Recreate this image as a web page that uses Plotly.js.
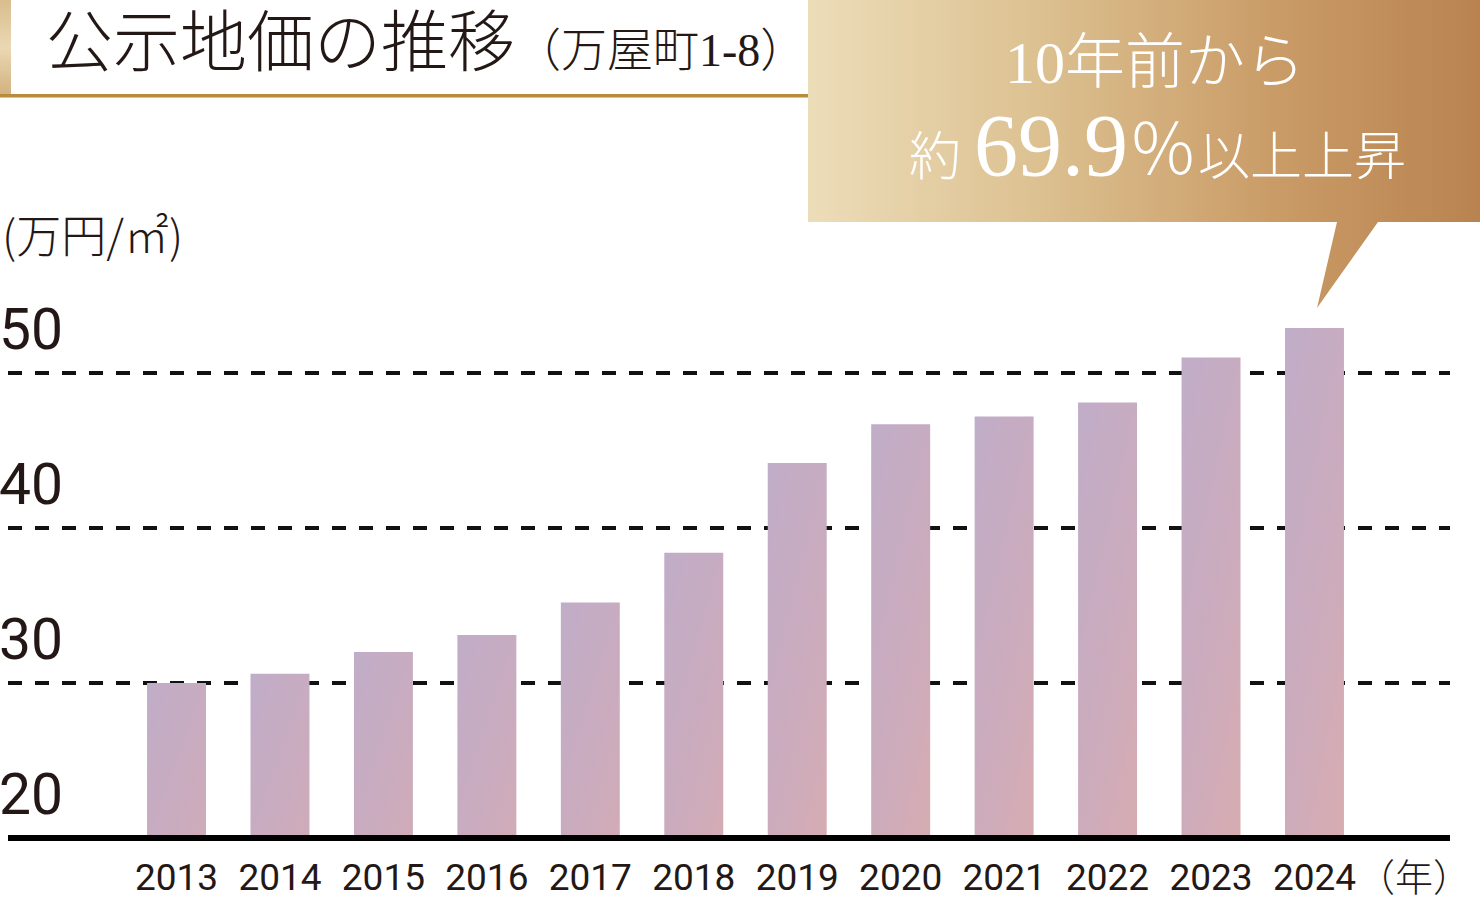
<!DOCTYPE html>
<html>
<head>
<meta charset="utf-8">
<script src="https://cdn.plot.ly/plotly-3.0.1.min.js"></script>
<style>
  html, body { margin: 0; padding: 0; background: #ffffff; }
  #chart { width: 1480px; height: 902px; }
</style>
</head>
<body>
<div id="chart"></div>
<script>
// ---- data ----
const years = ['2013','2014','2015','2016','2017','2018','2019','2020','2021','2022','2023','2024'];
const prices = [30.0, 30.6, 32.0, 33.1, 35.2, 38.4, 44.2, 46.7, 47.2, 48.1, 51.0, 52.9];
const yTickVals = [20, 30, 40, 50];
const yTickText = ['20', '30', '40', '50'];
const titleMain = '公示地価の推移';
const titleSub = '（万屋町1-8）';
const unitLabel = '(万円/㎡)';
const yearUnit = '（年）';
const calloutLine1 = '10年前から';
const calloutPrefix = '約';
const calloutRate = '69.9';
const calloutPct = '％';
const calloutSuffix = '以上上昇';

// ---- geometry helpers (pixel -> paper) ----
const W = 1480, H = 902;
const ML = 8, MR = 30, MT = 218, MB = 64;
const PW = W - ML - MR, PH = H - MT - MB;
const X = px => (px - ML) / PW;
const Y = py => (H - MB - py) / PH;

const ink = '#231815';
const jpFont = '"Noto Sans CJK JP", "Noto Sans", sans-serif';
const serifJp = '"Liberation Serif", "Noto Sans CJK JP", serif';
const numFont = 'Roboto, "Liberation Sans", sans-serif';

const calloutPath =
  'M' + X(808) + ',' + Y(0) +
  ' L' + X(1480) + ',' + Y(0) +
  ' L' + X(1480) + ',' + Y(222) +
  ' L' + X(1378) + ',' + Y(222) +
  ' L' + X(1317) + ',' + Y(308) +
  ' L' + X(1337) + ',' + Y(222) +
  ' L' + X(808) + ',' + Y(222) + ' Z';

const trace = {
  type: 'bar',
  x: years,
  y: prices,
  base: 0,
  width: 0.57,
  marker: { color: '#cbadbd', line: { width: 0 } },
  hoverinfo: 'skip'
};

const layout = {
  width: W, height: H,
  margin: { l: ML, r: MR, t: MT, b: MB, pad: 0 },
  paper_bgcolor: '#ffffff',
  plot_bgcolor: 'rgba(0,0,0,0)',
  showlegend: false,
  xaxis: {
    type: 'category',
    range: [-1.629, 12.31],
    showgrid: false, zeroline: false, showline: false,
    ticks: '',
    tickfont: { family: numFont, size: 37, color: ink },
    ticklabelstandoff: 14,
    fixedrange: true
  },
  yaxis: {
    range: [20, 60],
    tickvals: yTickVals,
    ticktext: yTickText,
    showgrid: true,
    gridcolor: '#111111',
    gridwidth: 4,
    griddash: '14px,13px',
    zeroline: false, showline: false,
    ticks: '',
    ticklabelposition: 'inside top',
    ticklabelstandoff: -12,
    ticklabelshift: -4,
    tickfont: { family: numFont, size: 57, color: ink },
    fixedrange: true
  },
  shapes: [
    // 0: callout bubble
    { type: 'path', xref: 'paper', yref: 'paper', path: calloutPath,
      fillcolor: '#d2a878', line: { width: 0 }, layer: 'above' },
    // 1: title side bar
    { type: 'rect', xref: 'paper', yref: 'paper',
      x0: X(0), x1: X(11), y0: Y(0), y1: Y(95),
      fillcolor: '#d8bc8c', line: { width: 0 }, layer: 'above' },
    // 2: title underline
    { type: 'rect', xref: 'paper', yref: 'paper',
      x0: X(0), x1: X(808), y0: Y(94), y1: Y(97.5),
      fillcolor: '#b98a3e', line: { width: 0 }, layer: 'above' },
    // 3: baseline (at y = 20, the bottom of the plot area)
    { type: 'line', xref: 'paper', yref: 'paper',
      x0: 0, x1: 1, y0: 0, y1: 0,
      line: { color: '#000000', width: 6 }, layer: 'above' }
  ],
  annotations: [
    { xref: 'paper', yref: 'paper', x: X(44), y: Y(43), xanchor: 'left', yanchor: 'middle',
      showarrow: false,
      text: titleMain + '<span style="font-size:46px">' + titleSub + '</span>',
      font: { family: serifJp, size: 67, color: ink, weight: 300 } },
    { xref: 'paper', yref: 'paper', x: X(0), y: Y(233), xanchor: 'left', yanchor: 'middle',
      showarrow: false, text: unitLabel,
      font: { family: jpFont, size: 45, color: ink, weight: 300 } },
    { xref: 'paper', yref: 'paper', x: X(1414), y: Y(874), xanchor: 'center', yanchor: 'middle',
      showarrow: false, text: yearUnit,
      font: { family: jpFont, size: 38, color: ink, weight: 300 } },
    { xref: 'paper', yref: 'paper', x: X(1155), y: Y(63), xanchor: 'center', yanchor: 'middle',
      showarrow: false, text: calloutLine1,
      font: { family: serifJp, size: 60, color: '#ffffff', weight: 300 } },
    { xref: 'paper', yref: 'paper', x: X(1157), y: Y(146), xanchor: 'center', yanchor: 'middle',
      showarrow: false,
      text: calloutPrefix + ' <span style="font-size:88px">' + calloutRate + '</span>' +
            '<span style="font-size:70px">' + calloutPct + '</span>' + calloutSuffix,
      font: { family: serifJp, size: 52, color: '#ffffff', weight: 300 } }
  ]
};

function applyGradients() {
  const root = document.getElementById('chart');
  const svg = root.querySelector('.main-svg');
  const ns = 'http://www.w3.org/2000/svg';
  let defs = svg.querySelector('defs');
  if (!defs) { defs = document.createElementNS(ns, 'defs'); svg.insertBefore(defs, svg.firstChild); }
  function grad(id, x1, y1, x2, y2, stops) {
    const g = document.createElementNS(ns, 'linearGradient');
    g.setAttribute('id', id);
    g.setAttribute('x1', x1); g.setAttribute('y1', y1);
    g.setAttribute('x2', x2); g.setAttribute('y2', y2);
    stops.forEach(s => {
      const st = document.createElementNS(ns, 'stop');
      st.setAttribute('offset', s[0]);
      st.setAttribute('stop-color', s[1]);
      g.appendChild(st);
    });
    defs.appendChild(g);
  }
  grad('barGrad', '0', '0', '0.35', '1', [['0', '#c0adc8'], ['0.5', '#ccabbc'], ['1', '#dcadac']]);
  grad('calloutGrad', '0', '0', '1', '0', [['0', '#ecddb9'], ['0.35', '#dcc090'], ['0.7', '#c99b66'], ['1', '#b98350']]);
  grad('sideGrad', '0', '0', '0', '1', [['0', '#d9bd8e'], ['0.5', '#ead8b4'], ['1', '#d2b17f']]);

  root.querySelectorAll('.trace.bars .point path').forEach(p => { p.style.fill = 'url(#barGrad)'; });
  const callout = root.querySelector('.shapelayer path[data-index="0"]');
  if (callout) callout.style.fill = 'url(#calloutGrad)';
  const side = root.querySelector('.shapelayer path[data-index="1"]');
  if (side) side.style.fill = 'url(#sideGrad)';
}

Plotly.newPlot('chart', [trace], layout, { staticPlot: true, displayModeBar: false })
  .then(applyGradients);
</script>
</body>
</html>
